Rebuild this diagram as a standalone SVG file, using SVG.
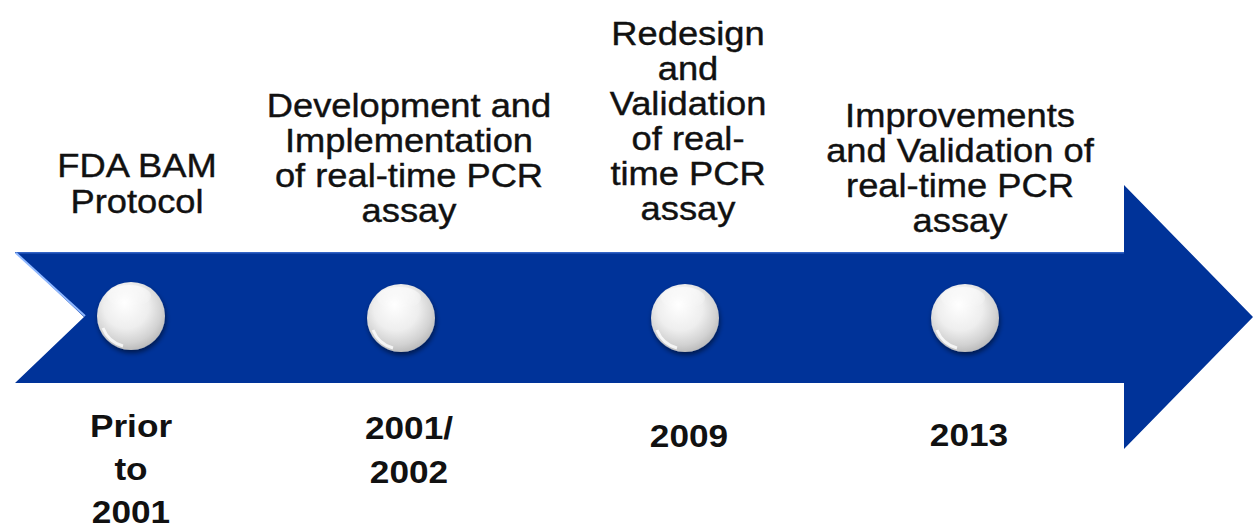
<svg xmlns="http://www.w3.org/2000/svg" width="1253" height="529" viewBox="0 0 1253 529">
<style>
.lbl{font-family:"Liberation Sans",Arial,sans-serif;font-size:33px;fill:#111;stroke:#111;stroke-width:0.4px;text-anchor:middle}
.yr{font-family:"Liberation Sans",Arial,sans-serif;font-size:32px;font-weight:bold;fill:#111;text-anchor:middle}
</style>
<defs>
<radialGradient id="ball" cx="0.45" cy="0.4" r="0.6" fx="0.4" fy="0.3">
<stop offset="0" stop-color="#ffffff"/>
<stop offset="0.55" stop-color="#eeeeee"/>
<stop offset="0.85" stop-color="#d2d2d2"/>
<stop offset="1" stop-color="#bdbdbd"/>
</radialGradient>
<linearGradient id="gloss" x1="0" y1="0" x2="0" y2="1">
<stop offset="0" stop-color="#ffffff" stop-opacity="0.9"/>
<stop offset="1" stop-color="#ffffff" stop-opacity="0"/>
</linearGradient>
<filter id="sh" x="-30%" y="-30%" width="160%" height="160%">
<feGaussianBlur in="SourceAlpha" stdDeviation="2.5"/>
<feOffset dx="1" dy="3" result="b"/>
<feFlood flood-color="#000" flood-opacity="0.5"/>
<feComposite in2="b" operator="in"/>
<feMerge><feMergeNode/><feMergeNode in="SourceGraphic"/></feMerge>
</filter>
<g id="bead">
<circle r="34" fill="url(#ball)" filter="url(#sh)"/>
<ellipse cx="-2" cy="-20" rx="22" ry="11" fill="url(#gloss)" opacity="0.7"/>
<path d="M-28,12 A30,30 0 0 0 -8,30" fill="none" stroke="#ffffff" stroke-width="3" opacity="0.8"/>
</g>
</defs>
<rect width="1253" height="529" fill="#ffffff"/>
<g id="timeline-arrow">
<polygon points="15,252 1124,252 1124,185 1253,317 1124,449 1124,383 15,383 84,317" fill="#003399"/>
<line x1="15" y1="252.7" x2="1124" y2="252.7" stroke="#3f6fd0" stroke-width="1.5" opacity="0.8"/>
<line x1="16" y1="253" x2="85" y2="316" stroke="#8fb8ff" stroke-width="2"/>
</g>
<g id="node-1">
<use href="#bead" x="131" y="316"/>
<text class="lbl" transform="translate(137,0) scale(1.1,1)"><tspan x="0" y="177">FDA BAM</tspan><tspan x="0" y="213">Protocol</tspan></text>
<text class="yr" transform="translate(131,0) scale(1.1,1)"><tspan x="0" y="437">Prior</tspan><tspan x="0" y="480">to</tspan><tspan x="0" y="523">2001</tspan></text>
</g>
<g id="node-2">
<use href="#bead" x="401" y="318"/>
<text class="lbl" transform="translate(409,0) scale(1.1,1)"><tspan x="0" y="117">Development and</tspan><tspan x="0" y="152">Implementation</tspan><tspan x="0" y="187">of real-time PCR</tspan><tspan x="0" y="222">assay</tspan></text>
<text class="yr" transform="translate(409,0) scale(1.1,1)"><tspan x="0" y="439">2001/</tspan><tspan x="0" y="483">2002</tspan></text>
</g>
<g id="node-3">
<use href="#bead" x="685" y="318"/>
<text class="lbl" transform="translate(688,0) scale(1.1,1)"><tspan x="0" y="45">Redesign</tspan><tspan x="0" y="80">and</tspan><tspan x="0" y="115">Validation</tspan><tspan x="0" y="150">of real-</tspan><tspan x="0" y="185">time PCR</tspan><tspan x="0" y="220">assay</tspan></text>
<text class="yr" transform="translate(689,0) scale(1.1,1)"><tspan x="0" y="447">2009</tspan></text>
</g>
<g id="node-4">
<use href="#bead" x="965" y="318"/>
<text class="lbl" transform="translate(960,0) scale(1.1,1)"><tspan x="0" y="127">Improvements</tspan><tspan x="0" y="162">and Validation of</tspan><tspan x="0" y="197">real-time PCR</tspan><tspan x="0" y="232">assay</tspan></text>
<text class="yr" transform="translate(969,0) scale(1.1,1)"><tspan x="0" y="446">2013</tspan></text>
</g>
<g id="connectors"></g>
</svg>
